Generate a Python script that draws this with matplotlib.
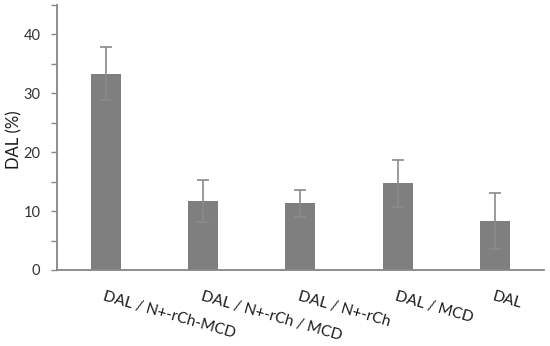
import matplotlib
matplotlib.use("Agg")
import matplotlib.pyplot as plt
import numpy as np

categories = ["DAL / N+-rCh-MCD", "DAL / N+-rCh / MCD", "DAL / N+-rCh", "DAL / MCD", "DAL"]
values = [33.3, 11.7, 11.35, 14.7, 8.3]
errors = [4.5, 3.6, 2.3, 4.0, 4.7]
y_major = [0, 10, 20, 30, 40]
y_minor = [5, 15, 25, 35, 45]

plt.rcParams['font.family'] = ['Lato', 'DejaVu Sans']

fig = plt.figure(figsize=(5.5, 3.46), dpi=100)
ax = fig.add_axes([0.1036, 0.2197, 0.885, 0.766])

x = np.arange(len(categories))
ax.bar(x, values, width=0.31, color='#7f7f7f', zorder=2)
ax.errorbar(x, values, yerr=errors, fmt='none', ecolor='#8a8a8a', elinewidth=1.2,
            capsize=4, capthick=1.2, zorder=3)

ax.set_xlim(-0.5, len(categories) - 0.5)
ax.set_ylim(0, 45)
ax.set_yticks(y_major)
ax.set_yticklabels([str(v) for v in y_major], fontsize=10.5, color='#333333')
ax.set_yticks(y_minor, minor=True)
ax.tick_params(axis='y', which='both', direction='out', length=4, color='#868686', width=1)
ax.tick_params(axis='y', which='major', pad=8)

ax.set_xticks(x)
ax.set_xticklabels(categories, rotation=-16, ha='left', va='top', rotation_mode='anchor',
                   fontsize=11, color='#1a1a1a')
ax.tick_params(axis='x', length=0, pad=14)

for s in ['top', 'right']:
    ax.spines[s].set_visible(False)
for s in ['left', 'bottom']:
    ax.spines[s].set_color('#868686')
    ax.spines[s].set_linewidth(1.3)

fig.text(14 / 550, 1 - 140 / 346, 'DAL (%)', rotation=90, ha='center', va='center',
         fontsize=12, color='#1a1a1a')

fig.savefig('out.png', dpi=100)
